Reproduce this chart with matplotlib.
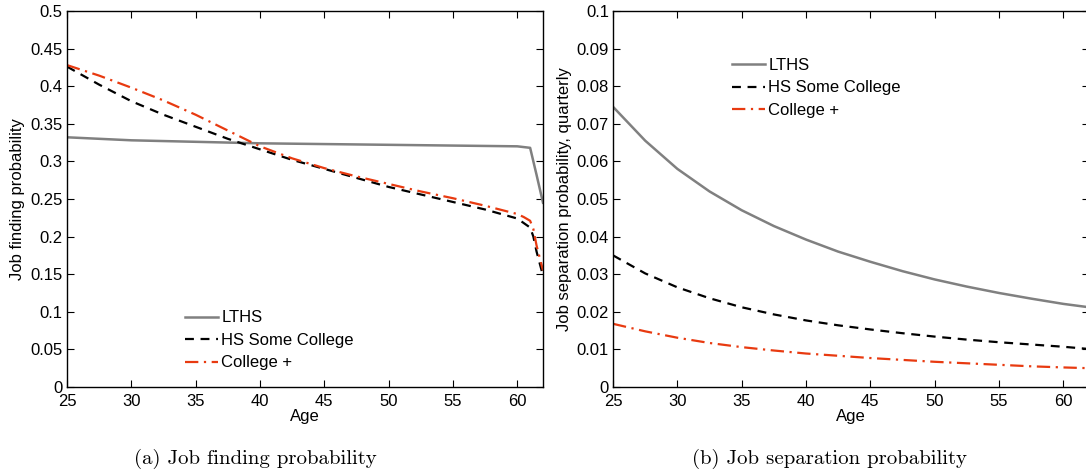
import matplotlib
matplotlib.use('Agg')
import matplotlib.pyplot as plt

plt.rcParams['font.family'] = ['Liberation Sans', 'DejaVu Sans']

# Edades (trimestral, de 25 a 62)
age_f = [25, 27.5, 30, 32.5, 35, 37.5, 40, 42.5, 45, 47.5, 50, 52.5, 55, 57.5, 60, 60.5, 61.0, 61.25, 61.5, 62]
find_lths = [0.332, 0.330, 0.328, 0.327, 0.326, 0.325, 0.324, 0.3235, 0.323, 0.3225, 0.322, 0.3215, 0.321, 0.3205, 0.320, 0.319, 0.318, 0.300, 0.282, 0.245]
find_hs = [0.426, 0.402, 0.380, 0.362, 0.346, 0.330, 0.316, 0.302, 0.290, 0.278, 0.266, 0.256, 0.246, 0.236, 0.224, 0.218, 0.212, 0.200, 0.180, 0.148]
find_col = [0.428, 0.414, 0.398, 0.381, 0.362, 0.341, 0.320, 0.304, 0.291, 0.280, 0.270, 0.260, 0.251, 0.241, 0.230, 0.226, 0.221, 0.210, 0.188, 0.155]

age_s = [25, 27.5, 30, 32.5, 35, 37.5, 40, 42.5, 45, 47.5, 50, 52.5, 55, 57.5, 60, 62]
sep_lths = [0.0745, 0.0655, 0.0580, 0.0520, 0.0470, 0.0428, 0.0392, 0.0360, 0.0333, 0.0308, 0.0286, 0.0267, 0.0250, 0.0235, 0.0221, 0.0212]
sep_hs = [0.0350, 0.0302, 0.0265, 0.0236, 0.0212, 0.0193, 0.0177, 0.0164, 0.0153, 0.0143, 0.0134, 0.0126, 0.0119, 0.0113, 0.0107, 0.0101]
sep_col = [0.0168, 0.0148, 0.0131, 0.0117, 0.0106, 0.0097, 0.0089, 0.0083, 0.0077, 0.0072, 0.0067, 0.0063, 0.0059, 0.0055, 0.0052, 0.0050]

labels = ['LTHS', 'HS Some College', 'College +']
gray = '#808080'
red = '#e83a10'

fig = plt.figure(figsize=(10.86, 4.76), dpi=100)
ax1 = fig.add_axes([0.0617, 0.187, 0.4383, 0.790])
ax2 = fig.add_axes([0.5645, 0.187, 0.4383, 0.790])

def estilo(ax, yticks, ylabel, pad):
    ax.set_xlim(25, 62)
    ax.set_xticks([25, 30, 35, 40, 45, 50, 55, 60])
    ax.set_xticklabels(['25', '30', '35', '40', '45', '50', '55', '60'])
    ax.set_yticks(yticks)
    ax.set_yticklabels(['%g' % t for t in yticks])
    ax.set_ylim(yticks[0], yticks[-1])
    ax.tick_params(direction='in', length=5, width=0.8, top=True, right=True, labelsize=12, pad=3)
    ax.tick_params(axis='x', pad=5)
    ax.set_xlabel('Age', fontsize=12, labelpad=0)
    ax.set_ylabel(ylabel, fontsize=12, labelpad=pad)
    for s in ax.spines.values():
        s.set_linewidth(1.0)

# Panel (a)
ax1.plot(age_f, find_lths, color=gray, lw=1.8, label=labels[0])
ax1.plot(age_f, find_hs, color='k', lw=1.6, ls=(0, (4, 3)), label=labels[1])
ax1.plot(age_f, find_col, color=red, lw=1.6, ls=(0, (6, 2.5, 1, 2.5)), label=labels[2])
estilo(ax1, [0, 0.05, 0.1, 0.15, 0.2, 0.25, 0.3, 0.35, 0.4, 0.45, 0.5], 'Job finding probability', 4)
ax1.legend(loc='lower left', bbox_to_anchor=(0.216, 0.004), frameon=False, fontsize=12,
           handlelength=2.0, handletextpad=0.2, labelspacing=0.45)

# Panel (b)
ax2.plot(age_s, sep_lths, color=gray, lw=1.8, label=labels[0])
ax2.plot(age_s, sep_hs, color='k', lw=1.6, ls=(0, (4, 3)), label=labels[1])
ax2.plot(age_s, sep_col, color=red, lw=1.6, ls=(0, (6, 2.5, 1, 2.5)), label=labels[2])
estilo(ax2, [0, 0.01, 0.02, 0.03, 0.04, 0.05, 0.06, 0.07, 0.08, 0.09, 0.1], 'Job separation probability, quarterly', 3)
ax2.legend(loc='upper left', bbox_to_anchor=(0.218, 0.915), frameon=False, fontsize=12,
           handlelength=2.0, handletextpad=0.2, labelspacing=0.45)

fig.text(0.235, 0.025, '(a) Job finding probability', fontsize=15, family=['cmr10', 'DejaVu Serif'], ha='center')
fig.text(0.764, 0.025, '(b) Job separation probability', fontsize=15, family=['cmr10', 'DejaVu Serif'], ha='center')

fig.savefig('out.png', dpi=100)
